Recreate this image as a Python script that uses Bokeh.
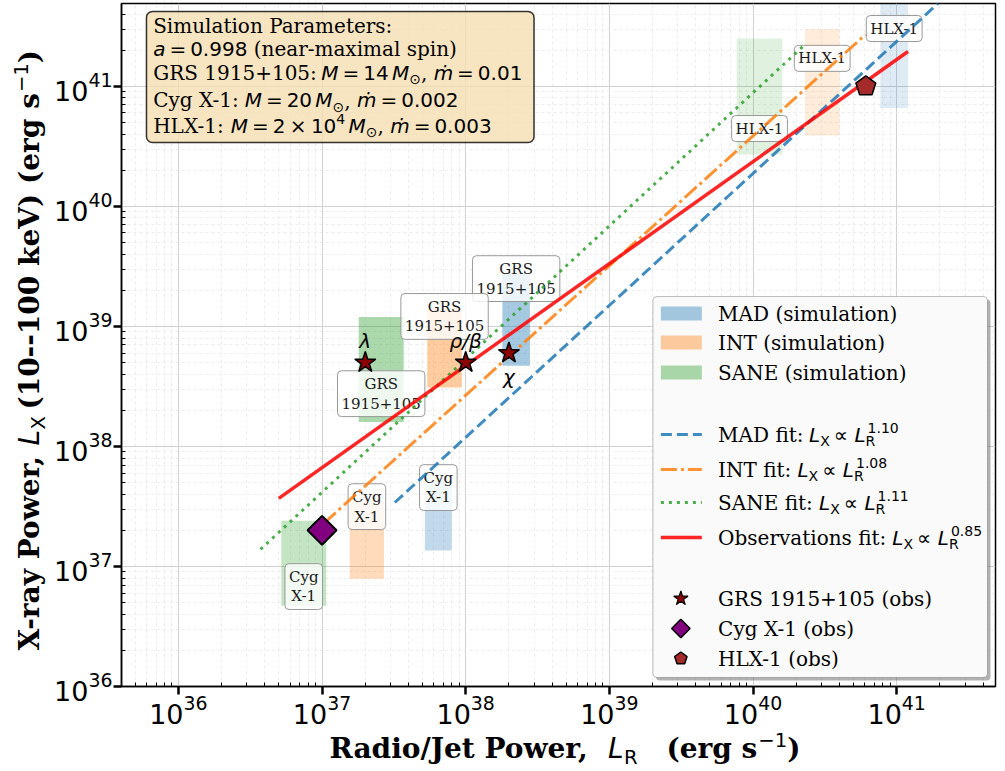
import math
from bokeh.plotting import figure
from bokeh.layouts import row, column
from bokeh.models import (Range1d, FixedTicker, LogTickFormatter, Label,
                          BoxAnnotation, ColumnDataSource)
from bokeh.core.properties import value
from bokeh.embed import file_html
from bokeh.resources import INLINE

# ------------------------------------------------------------------ data
source_names = ["GRS 1915+105", "Cyg X-1", "HLX-1"]
box_texts = ["GRS\n1915+105", "Cyg\nX-1", "HLX-1"]

# simulation ranges (per source: GRS, Cyg, HLX)
mad_lr_lo = [1.8e38, 5.2e37, 7.7e40]
mad_lr_hi = [2.8e38, 8.0e37, 1.2e41]
mad_lx_lo = [4.7e38, 1.36e37, 6.6e40]
mad_lx_hi = [2.8e39, 5.2e37, 4.9e41]
mad_text_lx = [2.5e39, 4.54e37, 3.03e41]

int_lr_lo = [5.4e37, 1.56e37, 2.3e40]
int_lr_hi = [9.4e37, 2.7e37, 4.0e40]
int_lx_lo = [3.1e38, 7.9e36, 3.9e40]
int_lx_hi = [1.41e39, 3.5e37, 3.0e41]
int_text_lx = [1.21e39, 3.15e37, 1.71e41]

sane_lr_lo = [1.8e37, 5.2e36, 7.7e39]
sane_lr_hi = [3.7e37, 1.07e37, 1.6e40]
sane_lx_lo = [1.6e38, 4.7e36, 2.7e40]
sane_lx_hi = [1.2e39, 2.4e37, 2.5e41]
sane_text_lx = [2.75e38, 6.8e36, 4.45e40]

# observations
grs_lr = [2e37, 1e38, 2e38]
grs_lx = [5e38, 5e38, 6e38]
grs_states = ["λ", "ρ/β", "χ"]
cyg_lr = [1e37]
cyg_lx = [2e37]
hlx_lr = [6.1e40]
hlx_lx = [1e41]

# fits (end points) and slopes
fit_names = ["MAD", "INT", "SANE", "Observations"]
fit_slopes = [1.10, 1.08, 1.11, 0.85]
fit_lr = [[3.21e37, 1.94e41], [1.03e37, 6.07e40], [3.73e36, 2.22e40], [5.0e36, 1.2e41]]
fit_lx = [[3.41e37, 4.9e41], [2.29e37, 2.7e41], [1.39e37, 2.14e41], [3.69e37, 1.95e41]]

# simulation parameters
spin = "0.998"
param_mass = ["14", "20", "2"]
param_mdot = ["0.01", "0.002", "0.003"]

tick_exponents = [36, 37, 38, 39, 40, 41]

# ------------------------------------------------------------------ layout (page px)
W, H = 1005, 771
LW = 51            # width of left label strip
MH = 728           # height of main figure
FL, FR, FT, FB = 120, 995, 3, 686
XLO, XHI = 35.604, 41.688
YLO, YHI = 36.0, 41.69
BASE_FIX = 0.35    # alphabetic baseline correction (fraction of font size)


def gx(px):
    return 10 ** (XLO + (px - FL) / (FR - FL) * (XHI - XLO))


def gy(py):
    return 10 ** (YHI - (py - FT) / (FB - FT) * (YHI - YLO))


def to_px(vx, vy):
    return (FL + (math.log10(vx) - XLO) / (XHI - XLO) * (FR - FL),
            FT + (YHI - math.log10(vy)) / (YHI - YLO) * (FB - FT))


p = figure(width=W - LW, height=MH, x_axis_type="log", y_axis_type="log",
           x_range=Range1d(10 ** XLO, 10 ** XHI), y_range=Range1d(10 ** YLO, 10 ** YHI),
           output_backend="svg", toolbar_location=None,
           min_border_left=FL - LW, min_border_right=W - FR,
           min_border_top=FT, min_border_bottom=MH - FB)
p.background_fill_color = "white"
p.border_fill_color = "white"
p.outline_line_color = "black"
p.outline_line_width = 1.5

major = [10.0 ** k for k in tick_exponents]
minor = [m * 10.0 ** k for k in range(35, 42) for m in range(2, 10)]
xt = FixedTicker(ticks=major, minor_ticks=minor)
yt = FixedTicker(ticks=major, minor_ticks=minor)
p.xaxis.ticker = xt
p.xgrid.ticker = xt
p.yaxis.ticker = yt
p.ygrid.ticker = yt
for ax in (p.xaxis, p.yaxis):
    ax.formatter = LogTickFormatter()
    ax.major_label_text_font = "DejaVu Sans"
    ax.major_label_text_font_size = "27px"
    ax.major_label_text_color = "black"
    ax.axis_line_color = "black"
    ax.axis_line_width = 1.5
    ax.major_tick_in = 0
    ax.major_tick_out = 8
    ax.major_tick_line_width = 2.5
    ax.minor_tick_in = 4
    ax.minor_tick_out = 0
    ax.minor_tick_line_width = 1
    ax.axis_label = None
p.xaxis.major_label_standoff = 0
p.yaxis.major_label_standoff = 1
for g in (p.xgrid, p.ygrid):
    g.grid_line_color = "#d0d0d0"
    g.grid_line_width = 1
    g.minor_grid_line_color = "#e8e8e8"
    g.minor_grid_line_dash = "3 3"
    g.minor_grid_line_width = 0.8


def strip_fig(width, height, xr, yr):
    f = figure(width=width, height=height, x_range=Range1d(*xr), y_range=Range1d(*yr),
               output_backend="svg", toolbar_location=None,
               x_axis_location=None, y_axis_location=None, min_border=0)
    f.grid.visible = False
    f.outline_line_color = None
    f.background_fill_color = "white"
    f.border_fill_color = "white"
    return f


left_fig = strip_fig(LW, H, (0, LW), (H, 0))
# frames in a column are aligned with the main frame horizontally
bottom_fig = strip_fig(W - LW, H - MH, (FL, FR), (H, MH))

mode_colors = ["#1f77b4", "#ff7f0e", "#2ca02c"]
source_alpha = [0.4, 0.28, 0.15]

modes = [
    (mad_lr_lo, mad_lr_hi, mad_lx_lo, mad_lx_hi, mad_text_lx),
    (int_lr_lo, int_lr_hi, int_lx_lo, int_lx_hi, int_text_lx),
    (sane_lr_lo, sane_lr_hi, sane_lx_lo, sane_lx_hi, sane_text_lx),
]

# boxes
for (lo, hi, ylo, yhi, _), col in zip(modes, mode_colors):
    src = ColumnDataSource(dict(left=lo, right=hi, bottom=ylo, top=yhi, alpha=source_alpha))
    p.quad(left="left", right="right", bottom="bottom", top="top", source=src,
           fill_color=col, fill_alpha="alpha", line_color=None)

# box labels
for (lo, hi, ylo, yhi, tly) in modes:
    cx = [math.sqrt(a * b) for a, b in zip(lo, hi)]
    src = ColumnDataSource(dict(x=cx, y=tly, t=box_texts))
    p.text(x="x", y="y", text="t", source=src, text_font=value("DejaVu Serif"),
           text_font_size="15px", text_color="#1a1a1a", text_align="center",
           text_baseline="middle", text_line_height=1.1,
           background_fill_color="white", background_fill_alpha=0.8,
           border_line_color="#999999", border_line_width=1, padding=4, border_radius=4)

# fit lines
fit_styles = [("#1f77b4", "11 5", 3.0), ("#ff7f0e", "16 4 3 4", 3.0),
              ("#2ca02c", "3 5", 3.0), ("#ff0000", "solid", 3.5)]
for lr, lx, (col, dash, lw) in zip(fit_lr, fit_lx, fit_styles):
    p.line(lr, lx, line_color=col, line_dash=dash, line_width=lw, line_alpha=0.85)

# observations
p.scatter(grs_lr, grs_lx, marker="star", size=22, fill_color="#8b0000",
          line_color="black", line_width=1.5)
p.scatter(cyg_lr, cyg_lx, marker="square", angle=math.pi / 4, size=20.5,
          fill_color="#800080", line_color="black", line_width=2)


def pentagon(vx, vy, r, level="glyph"):
    sx, sy = to_px(vx, vy)
    angs = [math.pi / 2 + 2 * math.pi * k / 5 for k in range(5)]
    xs = [gx(sx + r * math.cos(a)) for a in angs]
    ys = [gy(sy - r * math.sin(a)) for a in angs]
    p.patch(xs, ys, fill_color="#a52a2a", line_color="black", line_width=1.5, level=level)


for vx, vy in zip(hlx_lr, hlx_lx):
    pentagon(vx, vy, 10.5)

state_side = [-1, -1, 1]
for i, st in enumerate(grs_states):
    above = state_side[i] < 0
    p.text(x=[grs_lr[i]], y=[grs_lx[i]], text=[st], text_font=value("DejaVu Sans"),
           text_font_style="italic", text_font_size="20px", text_color="black",
           text_align="center", text_baseline="bottom" if above else "top",
           y_offset=-10 if above else 12)

# ------------------------------------------------------------------ text helpers
SANS_W = {'.': .318, ',': .318, ' ': .318, '=': .838, '×': .838, '∝': .838, '−': .838,
          'M': .863, 'a': .613, 'm': .974, 'ṁ': .974, '⊙': .838, 'L': .557, 'X': .685,
          'R': .695}
SERIF_W = {',': .318, ' ': .318}


def tw(txt, font):
    tab = SANS_W if font == "DejaVu Sans" else SERIF_W
    return sum(tab.get(c, .636) for c in txt)


def put(txt, x, y, size, font="DejaVu Serif", style="normal", angle=0.0, fig=None,
        align="left"):
    """Place text with its alphabetic baseline at page pixel (x, y)."""
    fix = BASE_FIX * size
    if angle:
        x -= fix
    else:
        y -= fix
    if fig is None:
        fig, X, Y = p, gx(x), gy(y)
    else:
        X, Y = x, y
    fig.add_layout(Label(x=X, y=Y, text=txt, text_font=font,
                         text_font_size=f"{size:.1f}px", text_font_style=style,
                         text_align=align, text_baseline="alphabetic", angle=angle,
                         text_color="black"))


def mrun(x, y, runs, s=20):
    for r in runs:
        kind = r[0]
        if kind == "gap":
            x += r[1]
            continue
        if kind == "at":
            x = r[1]
            continue
        txt = r[1]
        adv = r[2] if len(r) > 2 else True
        font, style, size, dy = "DejaVu Sans", "normal", s, 0.0
        if kind == "it":
            style = "italic"
        elif kind == "sub":
            size, dy = 0.7 * s, 0.22 * s
        elif kind == "sup":
            size, dy = 0.7 * s, -0.42 * s
        elif kind == "tx":
            font = "DejaVu Serif"
        put(txt, x, y + dy, size, font, style)
        if adv:
            x += tw(txt, font) * size
    return x


# ------------------------------------------------------------------ parameter box
p.add_layout(BoxAnnotation(left=gx(145), right=gx(533), top=gy(11), bottom=gy(142),
                           fill_color="#f5deb3", fill_alpha=0.8, line_color="black",
                           line_alpha=0.8, line_width=1.5, border_radius=6))
PX = 151.7
put("Simulation Parameters:", PX, 32, 20)
mrun(PX, 55.3, [("it", "a"), ("gap", 4), ("rm", "="), ("gap", 4), ("rm", spin),
                ("gap", 6.4), ("tx", "(near-maximal spin)")])
param_y = [79.3, 106.6, 132]
param_mstart = [320, 243.3, 229.3]
for i, nm in enumerate(source_names):
    mass_runs = [("rm", param_mass[i])]
    if nm == "HLX-1":
        mass_runs = [("rm", param_mass[i]), ("gap", 4.4), ("rm", "×"), ("gap", 4.4),
                     ("rm", "10"), ("sup", "4")]
    runs = [("tx", nm + ":"), ("at", param_mstart[i]), ("it", "M"), ("gap", 4), ("rm", "="),
            ("gap", 4)] + mass_runs + [("gap", 3.3), ("it", "M"), ("sub", "⊙"), ("tx", ","),
                                       ("gap", 6.4), ("it", "ṁ"), ("gap", 4), ("rm", "="),
                                       ("gap", 4), ("rm", param_mdot[i])]
    mrun(PX, param_y[i], runs)

# ------------------------------------------------------------------ legend
LX0, LX1, LY0, LY1 = 652, 987, 296, 677
p.add_layout(BoxAnnotation(left=gx(LX0 + 3), right=gx(LX1 + 3), top=gy(LY0 + 3),
                           bottom=gy(LY1 + 3), fill_color="#666666", fill_alpha=0.5,
                           line_color=None, border_radius=4))
p.add_layout(BoxAnnotation(left=gx(LX0), right=gx(LX1), top=gy(LY0), bottom=gy(LY1),
                           fill_color="#fafafa", fill_alpha=1.0, line_color="#333333",
                           line_width=1, border_radius=4))
KX0, KX1, KXC, TX = 660, 701, 680, 717.3
rows = [313, 342, 372, 434, 469, 502, 537, 598, 628, 658]
for i, col in enumerate(mode_colors):
    r = rows[i]
    p.quad(left=[gx(KX0)], right=[gx(KX1)], top=[gy(r - 7)], bottom=[gy(r + 7)],
           fill_color=col, fill_alpha=0.4, line_color=None, level="overlay")
    put(f"{fit_names[i]} (simulation)", TX, r + 7, 20)
math_x = [808.3, 796.7, 818.3, 891.7]
for i, (col, dash, lw) in enumerate(fit_styles):
    r = rows[3 + i]
    p.line([gx(KX0), gx(KX1)], [gy(r), gy(r)], line_color=col, line_dash=dash,
           line_width=lw, line_alpha=0.85, level="overlay")
    put(f"{fit_names[i]} fit:", TX, r + 7, 20)
    mrun(math_x[i], r + 7, [("it", "L"), ("sub", "X"), ("gap", 4), ("rm", "∝"), ("gap", 4),
                            ("it", "L"), ("sub", "R", False), ("gap", 2),
                            ("sup", f"{fit_slopes[i]:.2f}")])
r = rows[7]
p.scatter([gx(KXC)], [gy(r)], marker="star", size=15, fill_color="#8b0000",
          line_color="black", line_width=1.2, level="overlay")
put(f"{source_names[0]} (obs)", TX, r + 7, 20)
r = rows[8]
p.scatter([gx(KXC)], [gy(r)], marker="square", angle=math.pi / 4, size=13,
          fill_color="#800080", line_color="black", line_width=1.5, level="overlay")
put(f"{source_names[1]} (obs)", TX, r + 7, 20)
r = rows[9]
pentagon(gx(KXC), gy(r), 6.5, level="overlay")
put(f"{source_names[2]} (obs)", TX, r + 7, 20)

# ------------------------------------------------------------------ axis labels
BS = 28
SB = 19.6
XB = 758
bf = bottom_fig
put("Radio/Jet Power,", 328.3, XB, BS, "DejaVu Serif", "bold", fig=bf)
put("L", 607, XB, BS, "DejaVu Sans", "italic", fig=bf)
put("R", 623, XB + 6.2, SB, "DejaVu Sans", fig=bf)
put("(erg s", 756.6, XB, BS, "DejaVu Serif", "bold", fig=bf, align="right")
put("−1", 757.6, XB - 11.8, SB, "DejaVu Sans", fig=bf)
put(")", 786.5, XB, BS, "DejaVu Serif", "bold", fig=bf)

YB = 39
A = math.pi / 2
lf = left_fig
put("X-ray Power,", YB, 650, BS, "DejaVu Serif", "bold", angle=A, fig=lf)
put("L", YB, 445, BS, "DejaVu Sans", "italic", angle=A, fig=lf)
put("X", YB + 6.2, 429, SB, "DejaVu Sans", angle=A, fig=lf)
put("(10--100 keV) (erg s", YB, 92.6, BS, "DejaVu Serif", "bold", angle=A, fig=lf,
    align="right")
put("−1", YB - 11.8, 91.6, SB, "DejaVu Sans", angle=A, fig=lf)
put(")", YB, 62.7, BS, "DejaVu Serif", "bold", angle=A, fig=lf)

layout = row(left_fig, column(p, bottom_fig, spacing=0), spacing=0)
open("out.html", "w").write(file_html(layout, INLINE))
